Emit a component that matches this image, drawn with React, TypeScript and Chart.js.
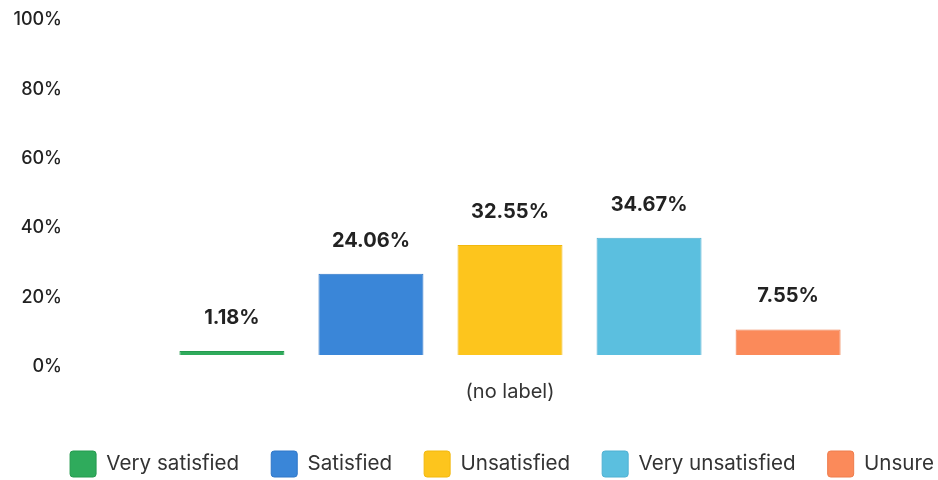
import React, { useEffect, useRef } from "react";
import { Chart, registerables } from "chart.js";

Chart.register(...registerables);

const categories = ["(no label)"];
const seriesNames = ["Very satisfied", "Satisfied", "Unsatisfied", "Very unsatisfied", "Unsure"];
const seriesValues = [1.18, 24.06, 32.55, 34.67, 7.55];
const seriesColors = ["#2fab5c", "#3a86d8", "#fdc51d", "#5bbfdf", "#fb8a5a"];
const seriesBorders = ["#259a4e", "#2f77c8", "#f2b80d", "#4fb0d2", "#ee7c4c"];
const yTicks = [0, 20, 40, 60, 80, 100];

const FONT = "Inter, 'Noto Sans', sans-serif";

const valueLabels = {
  id: "valueLabels",
  afterDatasetsDraw(chart: any) {
    const ctx = chart.ctx;
    ctx.save();
    ctx.font = `700 20px ${FONT}`;
    ctx.fillStyle = "#222222";
    ctx.textAlign = "center";
    ctx.textBaseline = "middle";
    chart.data.datasets.forEach((ds: any, i: number) => {
      const meta = chart.getDatasetMeta(i);
      meta.data.forEach((el: any, j: number) => {
        const v = ds.data[j];
        ctx.fillText(v.toFixed(2) + "%", el.x, el.y - 33);
      });
    });
    ctx.restore();
  },
};

const legendShift = {
  id: "legendShift",
  afterLayout(chart: any) {
    if (chart.legend) {
      chart.legend.left += 34;
      chart.legend.right += 34;
    }
  },
};

export default function App() {
  const ref = useRef<HTMLCanvasElement | null>(null);
  useEffect(() => {
    if (!ref.current) return;
    const chart = new Chart(ref.current, {
      type: "bar",
      data: {
        labels: categories,
        datasets: seriesNames.map((name, i) => ({
          label: name,
          data: [seriesValues[i]],
          backgroundColor: seriesColors[i],
          borderColor: seriesBorders[i],
          borderWidth: 1,
          barPercentage: 0.755,
          categoryPercentage: 0.816,
        })),
      },
      options: {
        animation: false,
        responsive: true,
        maintainAspectRatio: false,
        layout: { padding: { left: 0, right: 2, top: 0, bottom: 0 } },
        scales: {
          x: {
            grid: { display: false, drawTicks: false },
            border: { display: false },
            afterFit: (axis: any) => {
              axis.height -= 10;
            },
            ticks: { color: "#333333", font: { family: FONT, size: 20 }, padding: 25 },
          },
          y: {
            min: 0,
            max: 100,
            display: false,
          },
          yl: {
            type: "linear",
            position: "left",
            min: 3.43,
            max: 100.86,
            afterBuildTicks: (axis: any) => {
              axis.ticks = yTicks.map((v) => ({ value: v }));
            },
            afterFit: (axis: any) => {
              axis.width = 84;
            },
            grid: { display: false, drawTicks: false },
            border: { display: false },
            ticks: {
              color: "#222222",
              font: { family: FONT, size: 18, weight: "500" as any },
              padding: 22,
              callback: (v: any) => v + "%",
            },
          },
        },
        plugins: {
          legend: {
            position: "bottom",
            labels: {
              boxWidth: 26,
              boxHeight: 26,
              padding: 32,
              color: "#333333",
              font: { family: FONT, size: 20.6 },
              useBorderRadius: true,
              borderRadius: 3,
            } as any,
          },
          tooltip: { enabled: false },
        },
      },
      plugins: [valueLabels, legendShift],
    });
    return () => chart.destroy();
  }, []);
  return (
    <div style={{ position: "fixed", left: 0, top: -16, width: 938, height: 503, background: "#fff" }}>
      <canvas ref={ref} />
    </div>
  );
}
